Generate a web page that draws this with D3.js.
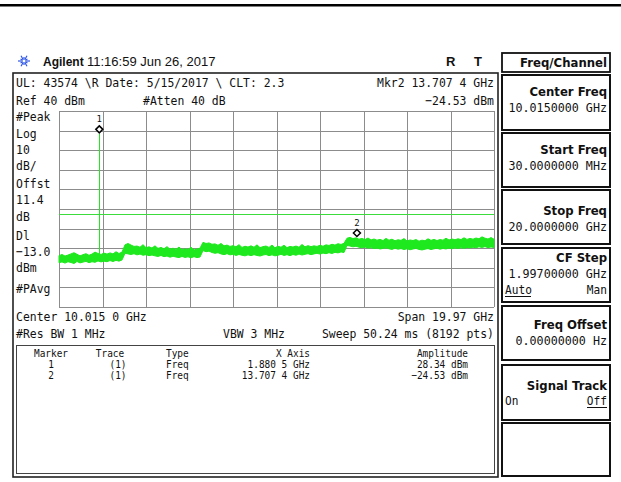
<!DOCTYPE html>
<html>
<head>
<meta charset="utf-8">
<script src="https://cdn.jsdelivr.net/npm/d3@7/dist/d3.min.js"></script>
<style>
  body { margin: 0; background: #fff; }
  svg { display: block; }
  .mono { font-family: "DejaVu Sans Mono", "Liberation Mono", monospace; fill: #111; }
  .key { font-family: "DejaVu Sans", "Liberation Sans", sans-serif; font-weight: bold; fill: #111; }
  .sans { font-family: "Liberation Sans", Arial, sans-serif; fill: #111; }
</style>
</head>
<body>
<div id="screen"></div>
<script>
// sweep settings
let startFreq = 0.03;   // GHz
let stopFreq = 20;      // GHz
let refLevel = 40;      // dBm
let dbPerDiv = 10;
let displayLine = -13.0;

// markers
let markerIds = [1, 2];
let markerFreqs = [1.8805, 13.7074];
let markerAmps = [28.34, -24.53];

// trace band (upper / lower edge of the noise, dBm), evenly spaced over the sweep
let traceHi = [
  -33.8, -33.2, -34.0, -33.5, -32.9, -32.3, -33.1, -33.9, -33.3, -32.8, -33.6, -33.0, -32.0, -32.7, -33.2, -32.5, -33.0, -32.4, -32.9, -31.8, -32.7, -32.0,
  -28.3, -27.6, -28.4, -29.1, -28.9, -29.5, -28.2, -29.7, -29.3, -29.9, -28.8, -30.1, -29.6, -30.3, -29.2, -30.5, -30.0, -30.6, -29.4, -30.8, -30.3, -30.7, -29.5, -30.9, -30.4, -30.0,
  -27.0, -27.6, -27.3, -28.0, -27.8, -28.5, -27.6, -28.8, -28.4, -29.1, -28.7, -29.3, -28.2, -29.6, -29.0, -29.4, -28.8, -29.5, -28.3, -29.7, -29.2, -28.9, -29.6, -28.4,
  -29.8, -29.0, -29.5, -28.5, -29.7, -29.1, -29.4, -28.9, -29.5, -28.1, -29.3, -28.7, -29.2, -28.8, -29.1, -28.5, -29.0, -28.3, -28.6, -28.0, -28.4, -27.7, -28.1, -27.5,
  -24.9, -24.5, -25.1, -24.7, -25.4, -25.0, -25.6, -24.8, -25.8, -25.3, -25.9, -25.5, -26.1, -25.0, -25.9, -25.4, -26.2, -25.7, -26.0, -25.1, -26.3, -25.8, -26.1, -25.6, -26.4,
  -25.9, -26.2, -25.2, -26.0, -25.5, -26.1, -25.6, -25.9, -24.9, -25.8, -25.3, -25.7, -25.2, -25.6, -24.7, -25.5, -25.0, -25.4, -24.8, -25.2, -24.2, -24.9, -25.3, -24.6, -25.4
];
let traceLo = [
  -37.4, -37.0, -37.6, -36.9, -37.3, -37.8, -36.8, -37.5, -37.1, -36.7, -37.4, -36.9, -37.2, -36.5, -37.0, -36.6, -36.9, -36.3, -36.8, -36.2, -36.6, -36.0,
  -32.6, -32.9, -33.2, -32.8, -33.4, -33.0, -33.6, -33.3, -33.8, -33.5, -33.9, -34.2, -33.7, -34.3, -34.0, -34.6, -34.1, -34.5, -34.8, -34.2, -34.7, -34.4, -34.9, -34.3, -34.8, -34.5,
  -31.2, -31.8, -31.5, -32.2, -32.6, -32.3, -32.9, -33.3, -32.8, -33.4, -33.1, -33.7, -33.2, -33.6, -33.9, -33.4, -33.8, -33.3, -33.7, -34.0, -33.5, -33.2, -33.8, -33.4,
  -33.9, -33.6, -33.1, -33.7, -33.3, -33.8, -33.2, -33.6, -33.0, -33.5, -33.1, -32.8, -33.3, -32.9, -32.6, -33.0, -32.5, -32.8, -32.3, -32.7, -32.1, -32.4, -31.9, -32.2,
  -28.6, -28.9, -29.3, -29.0, -29.5, -29.8, -29.4, -30.0, -29.7, -30.2, -29.9, -30.4, -30.1, -29.8, -30.3, -30.6, -30.0, -30.5, -30.2, -30.7, -30.3, -30.8, -30.4, -30.1, -30.6,
  -30.9, -30.5, -30.2, -30.7, -30.3, -30.0, -30.5, -30.1, -30.4, -29.9, -30.3, -29.8, -30.2, -29.7, -30.1, -29.6, -29.9, -29.5, -29.8, -29.3, -29.6, -29.2, -29.7, -29.4, -29.6
];

// annotation text
let leftLabels = ["#Peak", "Log", "10", "dB/", "Offst", "11.4", "dB", "Dl", "\u221213.0", "dBm", "#PAvg"];
let tableHeader = ["Marker", "Trace", "Type", "X Axis", "Amplitude"];
let tableRows = [
  ["1", "(1)", "Freq", "1.880 5 GHz", "28.34 dBm"],
  ["2", "(1)", "Freq", "13.707 4 GHz", "\u221224.53 dBm"]
];
let softKeys = ["Center Freq", "Start Freq", "Stop Freq", "CF Step", "Freq Offset", "Signal Track", ""];
let softValues = ["10.0150000 GHz", "30.0000000 MHz", "20.0000000 GHz", "1.99700000 GHz", "0.00000000  Hz", "", ""];

let width = 621;
let height = 482;
let plotLeft = 59, plotRight = 494, plotTop = 111, plotBottom = 307;

let svg = d3.select("#screen")
  .append("svg")
  .attr("width", width)
  .attr("height", height);

function txt(str, x, y, cls, size, anchor, sx) {
  return svg.append("text")
    .attr("class", cls)
    .attr("transform", "translate(" + x + "," + y + ") scale(" + (sx || 1) + ",1)")
    .attr("text-anchor", anchor || "start")
    .style("font-size", size + "px")
    .text(str);
}

// scales
let x = d3.scaleLinear().domain([startFreq, stopFreq]).range([plotLeft, plotRight]);
let y = d3.scaleLinear().domain([refLevel - 10 * dbPerDiv, refLevel]).range([plotBottom, plotTop]);
let idx = d3.scaleLinear().domain([0, traceHi.length - 1]).range([startFreq, stopFreq]);

// top bar
svg.append("rect").attr("x", 0).attr("y", 4).attr("width", width).attr("height", 2.5).attr("fill", "#000");

// Agilent logo burst
let logo = svg.append("g").attr("transform", "translate(24,61)").attr("stroke", "#2f57e6").attr("stroke-width", 1.2);
d3.range(12).forEach(function(i) {
  let a = i * Math.PI / 6;
  logo.append("line")
    .attr("x1", Math.cos(a) * 1.5).attr("y1", Math.sin(a) * 1.5)
    .attr("x2", Math.cos(a) * (i % 2 ? 4 : 6)).attr("y2", Math.sin(a) * (i % 2 ? 4 : 6));
});
txt("Agilent", 43, 66, "sans", 12, "start").style("font-weight", "bold");
txt("11:16:59  Jun 26, 2017", 87, 66, "sans", 13, "start");
txt("R", 446, 66, "sans", 13, "start").style("font-weight", "bold");
txt("T", 474, 66, "sans", 13, "start").style("font-weight", "bold");

// main screen frame
svg.append("rect").attr("x", 13).attr("y", 73).attr("width", 485).attr("height", 404)
  .attr("fill", "none").attr("stroke", "#222").attr("stroke-width", 1.6);
svg.append("rect").attr("x", 16.5).attr("y", 345.5).attr("width", 478).attr("height", 128)
  .attr("fill", "none").attr("stroke", "#444").attr("stroke-width", 1);

// header texts
let sx = 0.88;
let fs = 13;
txt("UL: 43574 \\R Date: 5/15/2017 \\ CLT: 2.3", 16, 87, "mono", fs, "start", sx);
txt("Ref 40 dBm", 16, 105, "mono", fs, "start", sx);
txt("#Atten 40 dB", 143, 105, "mono", fs, "start", sx);
txt("Mkr2  13.707 4 GHz", 494, 87, "mono", fs, "end", sx);
txt("\u221224.53 dBm", 494, 105, "mono", fs, "end", sx);

let labelY = [121, 138, 154, 170, 188, 204, 221, 240, 256, 272, 293];
leftLabels.forEach(function(s, i) { txt(s, 16, labelY[i], "mono", fs, "start", sx); });

// grid
let gridFreqs = d3.range(11).map(function(i) { return startFreq + i * (stopFreq - startFreq) / 10; });
let gridLevels = d3.range(11).map(function(i) { return refLevel - i * dbPerDiv; });

svg.append("g").attr("class", "grid")
  .attr("transform", "translate(0," + plotBottom + ")")
  .call(d3.axisBottom(x).tickValues(gridFreqs).tickSize(-(plotBottom - plotTop)).tickFormat(""));
svg.append("g").attr("class", "grid")
  .attr("transform", "translate(" + plotLeft + ",0)")
  .call(d3.axisLeft(y).tickValues(gridLevels).tickSize(-(plotRight - plotLeft)).tickFormat(""));
svg.selectAll(".grid .domain").remove();
svg.selectAll(".grid line").attr("stroke", "#8c8c8c").attr("stroke-width", 1).attr("shape-rendering", "crispEdges");

// display line
svg.append("line")
  .attr("x1", plotLeft).attr("x2", plotRight)
  .attr("y1", y(displayLine)).attr("y2", y(displayLine))
  .attr("stroke", "#3ddc3d").attr("stroke-width", 1).attr("shape-rendering", "crispEdges");

// trace band
let band = d3.area()
  .x(function(d, i) { return x(idx(i)); })
  .y0(function(d, i) { return y(traceLo[i]); })
  .y1(function(d, i) { return y(traceHi[i]); });
svg.append("path")
  .datum(traceHi)
  .attr("d", band)
  .attr("fill", "#1ee81e")
  .attr("stroke", "#1ee81e")
  .attr("stroke-width", 1);

// carrier spike at marker 1
svg.append("line")
  .attr("x1", Math.round(x(markerFreqs[0])) + 0.5).attr("x2", Math.round(x(markerFreqs[0])) + 0.5)
  .attr("y1", y(markerAmps[0])).attr("y2", y(-33.5))
  .attr("stroke", "#1ee81e").attr("stroke-width", 1).attr("shape-rendering", "crispEdges");

// markers
markerIds.forEach(function(id, i) {
  let mx = x(markerFreqs[i]);
  let my = y(markerAmps[i]) - 4.5;
  svg.append("path")
    .attr("d", "M" + mx + "," + (my - 3.5) + "L" + (mx + 3.5) + "," + my + "L" + mx + "," + (my + 3.5) + "L" + (mx - 3.5) + "," + my + "Z")
    .attr("fill", "#fff").attr("stroke", "#000").attr("stroke-width", 1.5);
  txt(String(id), mx, my - 7, "mono", 9, "middle", 1);
});

// footer
txt("Center 10.015 0 GHz", 16, 321, "mono", fs, "start", sx);
txt("Span 19.97 GHz", 494, 321, "mono", fs, "end", sx);
txt("#Res BW 1 MHz", 16, 338, "mono", fs, "start", sx);
txt("VBW 3 MHz", 223, 338, "mono", fs, "start", sx);
txt("Sweep 50.24 ms (8192 pts)", 494, 338, "mono", fs, "end", sx);

// marker table
let colX = [51, 110, 166, 310, 468];
let colAnchor = ["middle", "middle", "start", "end", "end"];
let rowY = [357, 368, 379];
[tableHeader].concat(tableRows).forEach(function(row, r) {
  row.forEach(function(s, c) {
    let cx = (r > 0 && c === 1) ? 118 : colX[c];
    txt(s, cx, rowY[r], "mono", 10.5, colAnchor[c], 0.9);
  });
});

// soft key panel
let keyLeft = 502, keyRight = 610;
svg.append("rect").attr("x", keyLeft).attr("y", 53).attr("width", keyRight - keyLeft).attr("height", 19)
  .attr("fill", "none").attr("stroke", "#111").attr("stroke-width", 1.8);
txt("Freq/Channel", keyRight - 3, 67, "key", 13, "end", 0.9);

let boxTop = [75, 133, 190, 248, 306, 365, 423];
let boxBottom = [130, 187, 244, 302, 360, 420, 476];
let keyDy = [21, 21, 25, 14, 23, 25, 0];
softKeys.forEach(function(k, i) {
  svg.append("rect").attr("x", keyLeft).attr("y", boxTop[i]).attr("width", keyRight - keyLeft).attr("height", boxBottom[i] - boxTop[i])
    .attr("fill", "none").attr("stroke", "#111").attr("stroke-width", 2);
  if (k) txt(k, keyRight - 3, boxTop[i] + keyDy[i], "key", 13, "end", 0.9);
  if (softValues[i]) txt(softValues[i], keyRight - 3, boxTop[i] + keyDy[i] + 16, "mono", 13, "end", 0.9);
});

// Auto/Man and On/Off toggles
txt("Auto", keyLeft + 3, 294, "mono", 12, "start", 0.93);
svg.append("line").attr("x1", keyLeft + 3).attr("x2", keyLeft + 29).attr("y1", 296.5).attr("y2", 296.5).attr("stroke", "#111");
txt("Man", keyRight - 3, 294, "mono", 12, "end", 0.93);
txt("On", keyLeft + 3, 405, "mono", 12, "start", 0.93);
txt("Off", keyRight - 3, 405, "mono", 12, "end", 0.93);
svg.append("line").attr("x1", keyRight - 23).attr("x2", keyRight - 3).attr("y1", 407.5).attr("y2", 407.5).attr("stroke", "#111");
</script>
</body>
</html>
